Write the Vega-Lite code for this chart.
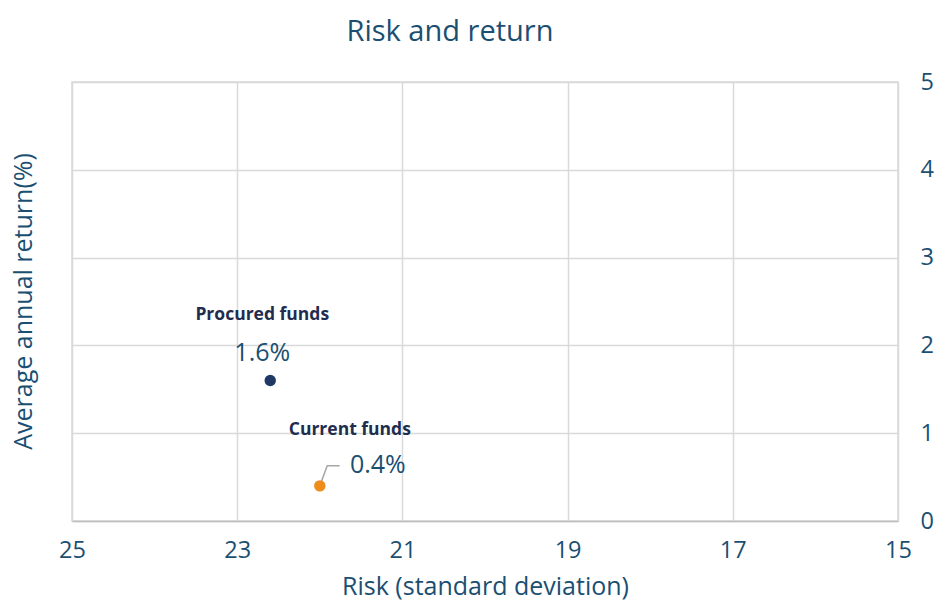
{
  "$schema": "https://vega.github.io/schema/vega-lite/v6.json",
  "width": 826,
  "height": 439,
  "autosize": {"type": "none"},
  "padding": {"left": 72, "top": 82, "right": 41, "bottom": 82},
  "background": "white",
  "title": {"text": "Risk and return", "fontSize": 29, "font": "Open Sans", "fontWeight": "normal", "color": "#1a4f72", "offset": 23, "dx": -35},
  "config": {"view": {"stroke": "#d9d9d9", "strokeWidth": 1.5}, "font": "Open Sans"},
  "datasets": {
    "funds": [
      {"name": "Procured funds", "risk": 22.6, "return": 1.6, "label": "1.6%"},
      {"name": "Current funds", "risk": 22.0, "return": 0.4, "label": "0.4%"}
    ],
    "leader": [
      {"risk": 22.0, "return": 0.4, "order": 1},
      {"risk": 21.91, "return": 0.63, "order": 2},
      {"risk": 21.76, "return": 0.63, "order": 3}
    ]
  },
  "encoding": {
    "x": {"field": "risk", "type": "quantitative",
      "scale": {"domain": [15, 25], "reverse": true, "nice": false, "zero": false},
      "axis": {"values": [25, 23, 21, 19, 17, 15], "title": "Risk (standard deviation)", "titleFontSize": 25, "titleFontWeight": "normal", "titleColor": "#1a4f72", "titlePadding": 13, "labelFontSize": 23.5, "labelColor": "#1a4f72", "labelPadding": 17, "ticks": false, "domainColor": "#bfbfbf", "domainWidth": 1.5, "gridColor": "#d9d9d9", "gridWidth": 1.5, "labelFlush": false}},
    "y": {"field": "return", "type": "quantitative",
      "scale": {"domain": [0, 5], "nice": false},
      "axis": {"orient": "right", "values": [0, 1, 2, 3, 4, 5], "ticks": false, "domain": false, "labelPadding": 22, "labelFontSize": 23.5, "labelColor": "#1a4f72", "title": "Average annual return(%)", "titleAngle": 270, "titleX": -862, "titleY": 219, "titleFontSize": 25, "titleFontWeight": "normal", "titleColor": "#1a4f72", "gridColor": "#d9d9d9", "gridWidth": 1.5, "labelFlush": false}}
  },
  "layer": [
    {"data": {"name": "leader"}, "mark": {"type": "line", "color": "#a6a6a6", "strokeWidth": 1.5}, "encoding": {"order": {"field": "order", "type": "quantitative"}}},
    {"data": {"name": "funds"}, "mark": {"type": "circle", "size": 130, "opacity": 1},
      "encoding": {"color": {"field": "name", "type": "nominal", "scale": {"domain": ["Procured funds", "Current funds"], "range": ["#1f3864", "#ee8c1c"]}, "legend": null}}},
    {"data": {"name": "funds"}, "transform": [{"filter": "datum.name == 'Procured funds'"}],
      "mark": {"type": "text", "dx": -8, "dy": -66, "fontSize": 17.5, "fontWeight": "bold", "color": "#1f2d4f"},
      "encoding": {"text": {"field": "name"}}},
    {"data": {"name": "funds"}, "transform": [{"filter": "datum.name == 'Procured funds'"}],
      "mark": {"type": "text", "dx": -8, "dy": -28, "fontSize": 25, "color": "#1a4f72"},
      "encoding": {"text": {"field": "label"}}},
    {"data": {"name": "funds"}, "transform": [{"filter": "datum.name == 'Current funds'"}],
      "mark": {"type": "text", "dx": 30, "dy": -56, "fontSize": 17.5, "fontWeight": "bold", "color": "#1f2d4f"},
      "encoding": {"text": {"field": "name"}}},
    {"data": {"name": "funds"}, "transform": [{"filter": "datum.name == 'Current funds'"}],
      "mark": {"type": "text", "dx": 58, "dy": -21, "fontSize": 25, "color": "#1a4f72"},
      "encoding": {"text": {"field": "label"}}}
  ]
}
